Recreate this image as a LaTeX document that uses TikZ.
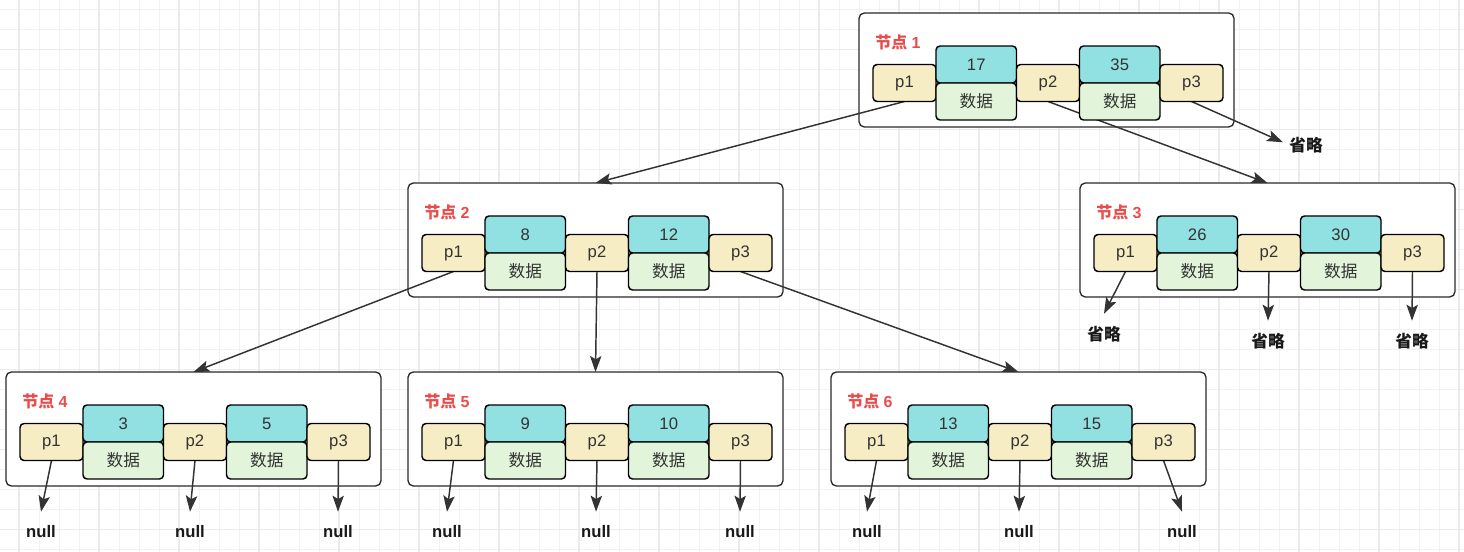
\documentclass[tikz,border=0pt]{standalone}
\usepackage{fontspec}
\setmainfont{Liberation Sans}
\newfontfamily\cjk{Noto Sans CJK SC}
\usetikzlibrary{arrows.meta,positioning}
\pgfdeclarelayer{back}
\pgfdeclarelayer{edges}
\pgfsetlayers{back,edges,main}

\definecolor{ptrfill}{HTML}{F6EDC4}
\definecolor{keyfill}{HTML}{91E0E2}
\definecolor{datafill}{HTML}{E2F5DA}
\definecolor{tagred}{HTML}{EA4C4C}
\definecolor{boxline}{HTML}{2A2A2A}
\definecolor{linkgray}{HTML}{333333}

% one B-tree node: name, x, y, key 1, key 2, number
\newcommand\btnode[6]{%
  \begin{pgfonlayer}{back}
    \node[nodebox] (#1) at (#2,#3) {};
  \end{pgfonlayer}
  \node[tag] (#1-tag) at (#2+16,#3+29) {{\cjk 节点} #6};
  \node[ptr] (#1-p1) at (#2+45.5,#3+70) {p1};
  \node[keycell, above right=0pt and 0pt of #1-p1.east] (#1-k1) {#4};
  \node[datacell, below=0pt of #1-k1] (#1-d1) {数据};
  \node[ptr, right=0pt of #1-k1.south east] (#1-p2) {p2};
  \node[keycell, above right=0pt and 0pt of #1-p2.east] (#1-k2) {#5};
  \node[datacell, below=0pt of #1-k2] (#1-d2) {数据};
  \node[ptr, right=0pt of #1-k2.south east] (#1-p3) {p3};
}

\begin{document}
\begin{tikzpicture}[
    x=0.75pt, y=-0.75pt,
    cell/.style={draw=black, line width=1.1pt, rounded corners=3pt, inner sep=0pt,
                 outer sep=0pt, minimum height=27.75pt, text=black!80,
                 font=\fontsize{12.5}{14}\selectfont},
    ptr/.style={cell, fill=ptrfill, minimum width=47.25pt},
    keycell/.style={cell, fill=keyfill, minimum width=60.375pt},
    datacell/.style={cell, fill=datafill, minimum width=60.375pt,
                     font=\fontsize{12.5}{14}\selectfont\cjk},
    nodebox/.style={draw=boxline, fill=white, line width=1pt, rounded corners=4pt,
                    anchor=north west, outer sep=0pt,
                    minimum width=281.25pt, minimum height=85.5pt},
    tag/.style={anchor=west, inner sep=0pt, text=tagred,
                font=\fontsize{12}{14}\selectfont\bfseries},
    leaf/.style={inner sep=0pt, minimum height=30pt, text=black!90,
                 font=\fontsize{12.5}{14}\selectfont\bfseries},
    link/.style={draw=linkgray, line width=1.1pt,
                 -{Stealth[length=12pt, width=8.5pt, inset=2.5pt]}},
    gridminor/.style={draw=black!5, line width=0.75pt},
    gridmajor/.style={draw=black!8, line width=0.9pt}]

\useasboundingbox (0,0) rectangle (1464,552);
\begin{pgfonlayer}{back}
  \fill[white] (0,0) rectangle (1464,552);
  \foreach \gx in {19,39,...,1459} \draw[gridminor] (\gx,0) -- (\gx,552);
  \foreach \gy in {9.5,29.5,...,549.5} \draw[gridminor] (0,\gy) -- (1464,\gy);
  \foreach \gx in {19,99,...,1459} \draw[gridmajor] (\gx,0) -- (\gx,552);
  \foreach \gy in {49.5,129.5,...,529.5} \draw[gridmajor] (0,\gy) -- (1464,\gy);
\end{pgfonlayer}

\btnode{n1}{859}{13}{17}{35}{1}
\btnode{n2}{408}{183}{8}{12}{2}
\btnode{n3}{1080}{183}{26}{30}{3}
\btnode{n4}{6}{372}{3}{5}{4}
\btnode{n5}{408}{372}{9}{10}{5}
\btnode{n6}{831}{372}{13}{15}{6}

% ends of the tree
\node[leaf] (n1-x) at (1306,145) {{\cjk 省略}};
\node[leaf] (n3-x1) at (1104,334) {{\cjk 省略}};
\node[leaf] (n3-x2) at (1268,341) {{\cjk 省略}};
\node[leaf] (n3-x3) at (1412,341) {{\cjk 省略}};
\node[leaf] (n4-x1) at (41,532) {null};
\node[leaf] (n4-x2) at (190,532) {null};
\node[leaf] (n4-x3) at (338,532) {null};
\node[leaf] (n5-x1) at (447,532) {null};
\node[leaf] (n5-x2) at (596,532) {null};
\node[leaf] (n5-x3) at (740,532) {null};
\node[leaf] (n6-x1) at (867,532) {null};
\node[leaf] (n6-x2) at (1019,532) {null};
\node[leaf] (n6-x3) at (1182,532) {null};

\begin{pgfonlayer}{edges}
  \draw[link] (n1-p1.south) -- (n2.north);
  \draw[link] (n1-p2.south) -- (n3.north);
  \draw[link, shorten >=5pt] (n1-p3.south) -- (n1-x.west);
  \draw[link] (n2-p1.south) -- (n4.north);
  \draw[link] (n2-p2.south) -- (n5.north);
  \draw[link] (n2-p3.south) -- (n6.north);
  \foreach \n in {3,4,5,6}
    \foreach \i in {1,2,3}
      \draw[link] (n\n-p\i.south) -- (n\n-x\i.north);
\end{pgfonlayer}

\end{tikzpicture}
\end{document}
